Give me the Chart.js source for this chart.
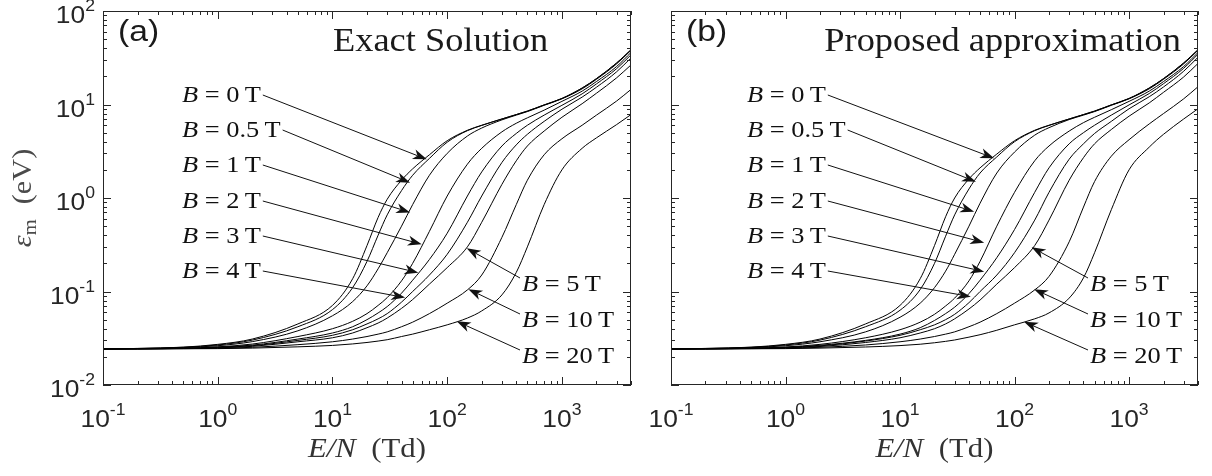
<!DOCTYPE html>
<html>
<head>
<meta charset="utf-8">
<title>Mean energy vs E/N</title>
<script src="https://cdn.jsdelivr.net/npm/chart.js@4.4.1/dist/chart.umd.min.js"></script>
<style>
  html, body { margin: 0; padding: 0; background: #fff; }
  #wrap { position: relative; width: 1212px; height: 476px; overflow: hidden; }
  canvas { position: absolute; top: 0; }
</style>
</head>
<body>
<div id="wrap">
  <canvas id="panelA" width="640" height="476" style="left:0px"></canvas>
  <canvas id="panelB" width="572" height="476" style="left:640px"></canvas>
</div>
<script>
// reduced field E/N (Td), shared by every curve
const fieldTd = [0.1, 0.2, 0.5, 1, 2, 5, 10, 15, 20, 25, 30, 40, 50, 70, 100, 150, 200, 300, 400, 500, 700, 1000, 1500, 2000, 3000, 4000];

// magnetic field of each curve (T)
const fieldB = ['0', '0.5', '1', '2', '3', '4', '5', '10', '20'];

// (a) exact solution, mean energy (eV)
const exactB0  = [0.0243, 0.0246, 0.0254, 0.0272, 0.031, 0.045, 0.071, 0.137, 0.31, 0.62, 0.97, 1.55, 2.05, 2.9, 4.1, 5.3, 6.0, 7.0, 7.8, 8.5, 9.9, 11.6, 15.0, 18.9, 27.8, 38.5];
const exactB05 = [0.0243, 0.0246, 0.0253, 0.0268, 0.0302, 0.042, 0.064, 0.11, 0.21, 0.40, 0.66, 1.2, 1.75, 2.65, 3.95, 5.25, 5.97, 7.0, 7.8, 8.5, 9.9, 11.6, 15.0, 18.9, 27.8, 38.5];
const exactB1  = [0.0243, 0.0245, 0.0251, 0.0263, 0.0291, 0.038, 0.055, 0.078, 0.115, 0.175, 0.26, 0.5, 0.85, 1.75, 3.0, 4.6, 5.6, 6.85, 7.7, 8.4, 9.8, 11.5, 14.7, 18.6, 27.2, 38];
const exactB2  = [0.0243, 0.0244, 0.0248, 0.0256, 0.0274, 0.033, 0.040, 0.048, 0.058, 0.071, 0.086, 0.13, 0.20, 0.44, 1.05, 2.3, 3.4, 5.1, 6.3, 7.2, 8.7, 10.8, 13.9, 17.6, 25.5, 36];
const exactB3  = [0.0243, 0.0244, 0.0247, 0.0254, 0.0267, 0.031, 0.036, 0.042, 0.050, 0.059, 0.069, 0.096, 0.132, 0.22, 0.42, 1.05, 1.9, 3.6, 4.9, 6.0, 7.7, 9.8, 13.0, 16.6, 24.2, 34];
const exactB4  = [0.0243, 0.0244, 0.0246, 0.0252, 0.0263, 0.030, 0.034, 0.039, 0.045, 0.051, 0.058, 0.077, 0.10, 0.15, 0.25, 0.55, 1.05, 2.4, 3.7, 4.8, 6.6, 8.9, 12.0, 15.3, 22.4, 31.5];
const exactB5  = [0.0243, 0.0244, 0.0246, 0.0250, 0.0259, 0.029, 0.032, 0.036, 0.041, 0.046, 0.052, 0.066, 0.082, 0.12, 0.18, 0.30, 0.55, 1.4, 2.5, 3.6, 5.2, 7.3, 10.2, 13.2, 19.3, 26.5];
const exactB10 = [0.0243, 0.0243, 0.0245, 0.0247, 0.0253, 0.027, 0.029, 0.031, 0.033, 0.035, 0.037, 0.042, 0.047, 0.058, 0.075, 0.104, 0.15, 0.38, 0.85, 1.55, 2.9, 4.3, 6.0, 7.7, 10.9, 14.5];
const exactB20 = [0.0243, 0.0243, 0.0244, 0.0245, 0.0248, 0.0256, 0.0265, 0.0275, 0.0285, 0.0295, 0.0305, 0.033, 0.035, 0.039, 0.044, 0.052, 0.062, 0.092, 0.16, 0.30, 0.85, 2.0, 3.4, 4.4, 6.1, 7.8];

// (b) proposed approximation, mean energy (eV)
const approxB0  = [0.0243, 0.0246, 0.0254, 0.0272, 0.031, 0.045, 0.071, 0.137, 0.31, 0.63, 1.0, 1.6, 2.1, 2.95, 4.1, 5.3, 6.0, 7.0, 7.8, 8.5, 9.9, 11.6, 15.0, 18.9, 27.8, 38.5];
const approxB05 = [0.0243, 0.0246, 0.0253, 0.0268, 0.0302, 0.042, 0.063, 0.105, 0.20, 0.39, 0.66, 1.25, 1.85, 2.75, 4.0, 5.25, 5.97, 7.0, 7.8, 8.5, 9.9, 11.6, 15.0, 18.9, 27.8, 38.5];
const approxB1  = [0.0243, 0.0245, 0.0251, 0.0263, 0.029, 0.037, 0.053, 0.075, 0.11, 0.165, 0.25, 0.50, 0.88, 1.85, 3.1, 4.7, 5.65, 6.9, 7.7, 8.4, 9.8, 11.5, 14.7, 18.6, 27.2, 38];
const approxB2  = [0.0243, 0.0244, 0.0248, 0.0255, 0.0272, 0.032, 0.039, 0.047, 0.057, 0.070, 0.085, 0.13, 0.21, 0.50, 1.15, 2.5, 3.6, 5.2, 6.4, 7.3, 8.8, 10.8, 13.9, 17.6, 25.5, 36];
const approxB3  = [0.0243, 0.0244, 0.0247, 0.0253, 0.0266, 0.030, 0.035, 0.041, 0.049, 0.058, 0.068, 0.095, 0.132, 0.23, 0.46, 1.15, 2.1, 3.8, 5.0, 6.0, 7.7, 9.9, 13.1, 16.7, 24.4, 34.5];
const approxB4  = [0.0243, 0.0244, 0.0246, 0.0251, 0.0262, 0.0295, 0.034, 0.039, 0.044, 0.050, 0.057, 0.076, 0.10, 0.15, 0.26, 0.58, 1.15, 2.6, 3.8, 4.9, 6.6, 9.0, 12.1, 15.4, 22.7, 32];
const approxB5  = [0.0243, 0.0244, 0.0246, 0.0250, 0.0258, 0.0285, 0.032, 0.036, 0.040, 0.045, 0.051, 0.065, 0.081, 0.12, 0.18, 0.31, 0.58, 1.55, 2.7, 3.8, 5.4, 7.5, 10.4, 13.5, 19.7, 27.5];
const approxB10 = [0.0243, 0.0243, 0.0245, 0.0247, 0.0253, 0.0268, 0.029, 0.031, 0.033, 0.035, 0.037, 0.042, 0.047, 0.058, 0.075, 0.104, 0.145, 0.34, 0.8, 1.5, 2.8, 4.2, 6.2, 8.0, 11.5, 15.5];
const approxB20 = [0.0243, 0.0243, 0.0244, 0.0245, 0.0248, 0.0255, 0.0264, 0.0273, 0.0283, 0.0293, 0.0303, 0.0325, 0.0345, 0.0385, 0.044, 0.051, 0.059, 0.085, 0.14, 0.26, 0.75, 2.0, 3.5, 4.8, 7.0, 9.0];

// tick decades
const xDecades = [-1, 0, 1, 2, 3];
const yDecades = [-2, -1, 0, 1, 2];

const exactSeries = [exactB0, exactB05, exactB1, exactB2, exactB3, exactB4, exactB5, exactB10, exactB20];
const approxSeries = [approxB0, approxB05, approxB1, approxB2, approxB3, approxB4, approxB5, approxB10, approxB20];

const axisColor = '#262626';
const sansFont = '"Liberation Sans", Arial, Helvetica, sans-serif';
const serifFont = '"Liberation Serif", "Times New Roman", serif';

// arrow tips in data coordinates (E/N, eps) for each B label
const arrowTipsA = [[66.4, 2.59], [47.5, 1.46], [47.5, 0.70], [60, 0.32], [56, 0.159], [43, 0.086], [148, 0.29], [153, 0.106], [121, 0.048]];
const arrowTipsB = [[66.4, 2.66], [46, 1.49], [44.4, 0.713], [54.3, 0.333], [54.3, 0.163], [41.5, 0.088], [141, 0.297], [148, 0.106], [121, 0.0475]];

// draws a list of text pieces side by side, stretched horizontally a bit (CM-like width)
function drawPieces(ctx, pieces, x, y, align, sx) {
    let total = 0;
    pieces.forEach(p => { ctx.font = p.f; p.w = ctx.measureText(p.t).width; total += p.w; });
    let x0 = x;
    if (align === 'center') x0 = x - total * sx / 2;
    if (align === 'right') x0 = x - total * sx;
    ctx.save();
    ctx.translate(x0, y);
    ctx.scale(sx, 1);
    ctx.textAlign = 'left';
    ctx.textBaseline = 'alphabetic';
    let cx = 0;
    pieces.forEach(p => {
        ctx.font = p.f;
        ctx.fillText(p.t, cx, p.dy || 0);
        cx += p.w;
    });
    ctx.restore();
    return total * sx;
}

function bLabel(b) {
    return [
        { t: 'B', f: 'italic 24px ' + serifFont },
        { t: ' = ' + b + '\u2009T', f: '24px ' + serifFont }
    ];
}

function drawArrow(ctx, x0, y0, x1, y1) {
    const ang = Math.atan2(y1 - y0, x1 - x0);
    const len = 14, half = 5, notch = 4;
    const c = Math.cos(ang), s = Math.sin(ang);
    ctx.beginPath();
    ctx.moveTo(x0, y0);
    ctx.lineTo(x1 - c * (len - notch), y1 - s * (len - notch));
    ctx.stroke();
    const bx = x1 - c * len, by = y1 - s * len;
    ctx.beginPath();
    ctx.moveTo(x1, y1);
    ctx.lineTo(bx - s * half, by + c * half);
    ctx.lineTo(x1 - c * (len - notch), y1 - s * (len - notch));
    ctx.lineTo(bx + s * half, by - c * half);
    ctx.closePath();
    ctx.fill();
}

const decorPlugin = {
    id: 'decor',
    afterDatasetsDraw(chart, args, opts) {
        const ctx = chart.ctx;
        const { left, right, top, bottom } = chart.chartArea;
        const xs = chart.scales.x, ys = chart.scales.y;
        ctx.save();
        ctx.strokeStyle = axisColor;
        ctx.fillStyle = axisColor;
        ctx.lineWidth = 1;

        // box
        ctx.strokeRect(left + 0.5, top + 0.5, right - left - 1, bottom - top - 1);

        // inward ticks, log spaced
        ctx.beginPath();
        xDecades.forEach(n => {
            for (let k = 1; k <= 9; k++) {
                const v = k * Math.pow(10, n);
                if (v < xs.min || v > xs.max) continue;
                const px = Math.round(xs.getPixelForValue(v)) + 0.5;
                const len = k === 1 ? 8 : 4;
                ctx.moveTo(px, bottom); ctx.lineTo(px, bottom - len);
                ctx.moveTo(px, top); ctx.lineTo(px, top + len);
            }
        });
        yDecades.forEach(n => {
            for (let k = 1; k <= 9; k++) {
                const v = k * Math.pow(10, n);
                if (v < ys.min || v > ys.max) continue;
                const py = Math.round(ys.getPixelForValue(v)) + 0.5;
                const len = k === 1 ? 8 : 4;
                ctx.moveTo(left, py); ctx.lineTo(left + len, py);
                ctx.moveTo(right, py); ctx.lineTo(right - len, py);
            }
        });
        ctx.stroke();

        // tick labels 10^n
        xDecades.forEach(n => {
            const px = xs.getPixelForValue(Math.pow(10, n));
            drawPieces(ctx, [
                { t: '10', f: '24px ' + sansFont },
                { t: String(n), f: '16px ' + sansFont, dy: -12 }
            ], px, bottom + 42, 'center', 1.1);
        });
        if (opts.yTicks) {
            yDecades.forEach(n => {
                const py = ys.getPixelForValue(Math.pow(10, n));
                drawPieces(ctx, [
                    { t: '10', f: '24px ' + sansFont },
                    { t: String(n), f: '16px ' + sansFont, dy: -12 }
                ], left - 8, py + 12, 'right', 1.1);
            });
            // y title
            ctx.save();
            ctx.fillStyle = '#4a4a4a';
            ctx.translate(31, (top + bottom) / 2);
            ctx.rotate(-Math.PI / 2);
            drawPieces(ctx, [
                { t: '\u03B5', f: 'italic 28px ' + serifFont },
                { t: 'm', f: '19px ' + serifFont, dy: 5 },
                { t: '\u2002(eV)', f: '28px ' + serifFont }
            ], 0, 0, 'center', 1.08);
            ctx.restore();
        }

        // x title
        ctx.fillStyle = '#333';
        drawPieces(ctx, [
            { t: 'E/N', f: 'italic 28px ' + serifFont },
            { t: '\u2002(Td)', f: '28px ' + serifFont }
        ], (left + right) / 2, bottom + 72, 'center', 1.1);

        // panel letter and title
        ctx.fillStyle = '#1a1a1a';
        drawPieces(ctx, [{ t: opts.letter, f: '30px ' + sansFont }], left + 15, top + 30, 'left', 1.12);
        if (opts.titleAlign === 'left') {
            drawPieces(ctx, [{ t: opts.title, f: '34px ' + serifFont }], left + 230, top + 40, 'left', 1.07);
        } else {
            drawPieces(ctx, [{ t: opts.title, f: '34px ' + serifFont }], right - 17, top + 40, 'right', 1.07);
        }

        // B labels with arrows
        ctx.fillStyle = '#111';
        ctx.strokeStyle = '#111';
        const leftRows = [91, 126, 161, 197, 232, 267];
        const rightRows = [280, 316, 352];
        opts.tips.forEach((tip, i) => {
            const tx = xs.getPixelForValue(tip[0]);
            const ty = ys.getPixelForValue(tip[1]);
            if (i < 6) {
                const lx = left + opts.labelOffset, ly = top + leftRows[i];
                const w = drawPieces(ctx, bLabel(fieldB[i]), lx, ly, 'left', 1.1);
                drawArrow(ctx, lx + w + 2, ly - 7, tx, ty);
            } else {
                const lx = left + 419, ly = top + rightRows[i - 6];
                drawPieces(ctx, bLabel(fieldB[i]), lx, ly, 'left', 1.1);
                drawArrow(ctx, lx - 2, ly - 13, tx, ty);
            }
        });
        ctx.restore();
    }
};

function makePanel(canvasId, series, padding, decor) {
    const ctx = document.getElementById(canvasId).getContext('2d');
    return new Chart(ctx, {
        type: 'line',
        data: {
            datasets: series.map((vals, i) => ({
                label: 'B = ' + fieldB[i] + ' T',
                data: fieldTd.map((x, j) => ({ x: x, y: vals[j] })),
                borderColor: '#000',
                borderWidth: 1,
                pointRadius: 0,
                fill: false,
                cubicInterpolationMode: 'monotone'
            }))
        },
        options: {
            responsive: false,
            animation: false,
            devicePixelRatio: 1,
            layout: { padding: padding },
            scales: {
                x: { type: 'logarithmic', min: 0.1, max: 4000, display: false },
                y: { type: 'logarithmic', min: 0.01, max: 100, display: false }
            },
            plugins: {
                legend: { display: false },
                tooltip: { enabled: false },
                decor: decor
            }
        },
        plugins: [decorPlugin]
    });
}

makePanel('panelA', exactSeries, { left: 103, right: 9, top: 11, bottom: 91 }, {
    letter: '(a)', title: 'Exact Solution', titleAlign: 'left', yTicks: true, tips: arrowTipsA, labelOffset: 79
});
makePanel('panelB', approxSeries, { left: 31, right: 14, top: 11, bottom: 91 }, {
    letter: '(b)', title: 'Proposed approximation', titleAlign: 'right', yTicks: false, tips: arrowTipsB, labelOffset: 76
});
</script>
</body>
</html>
